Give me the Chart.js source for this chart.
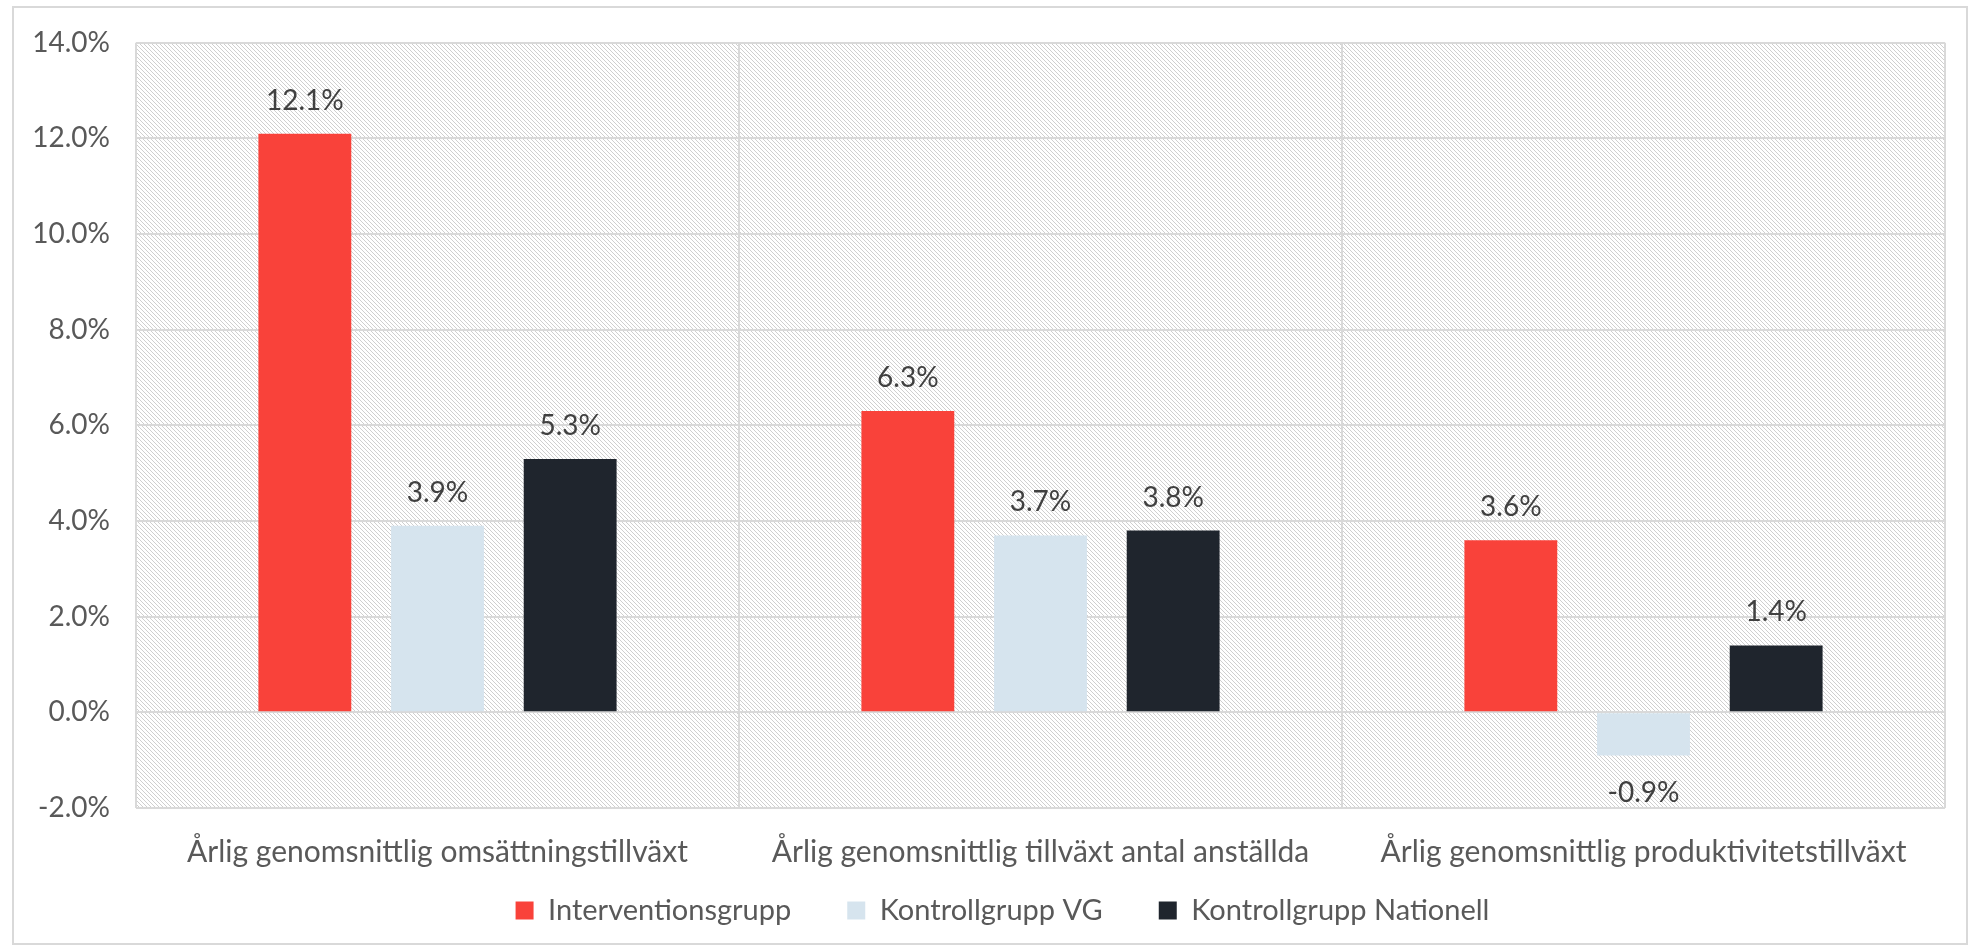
<!DOCTYPE html>
<html lang="sv">
<head>
    <meta charset="UTF-8">
    <title>Årlig genomsnittlig tillväxt</title>
    <style>
        html, body { margin: 0; padding: 0; background: #fff; }
        #Wrap { position: relative; width: 1980px; height: 952px; }
    </style>
</head>
<body>
    <div id="Wrap"><canvas id="Grafico"></canvas></div>

    <script src="https://cdn.jsdelivr.net/npm/chart.js"></script>
    <script>
        // dados
        const categorias = [
            'Årlig genomsnittlig omsättningstillväxt',
            'Årlig genomsnittlig tillväxt antal anställda',
            'Årlig genomsnittlig produktivitetstillväxt'
        ];
        const interventionsgrupp = [12.1, 6.3, 3.6];
        const kontrollgruppVG = [3.9, 3.7, -0.9];
        const kontrollgruppNationell = [5.3, 3.8, 1.4];
        const serieNomes = ['Interventionsgrupp', 'Kontrollgrupp VG', 'Kontrollgrupp Nationell'];
        const serieCores = ['#F9423A', '#D6E4EE', '#1F252D'];

        const fonte = 'Lato, "Open Sans", sans-serif';

        // fundo hachurado da area do grafico
        function criarHachura() {
            const c = document.createElement('canvas');
            c.width = 4; c.height = 4;
            const g = c.getContext('2d');
            g.fillStyle = '#ffffff';
            g.fillRect(0, 0, 4, 4);
            g.fillStyle = '#cfcfcf';
            for (let i = 0; i < 4; i++) g.fillRect(i, i, 1, 1);
            return g.createPattern(c, 'repeat');
        }

        const fundoPlugin = {
            id: 'fundo',
            beforeDraw(chart) {
                const ctx = chart.ctx;
                const a = chart.chartArea;
                ctx.save();
                ctx.fillStyle = '#ffffff';
                ctx.fillRect(0, 0, chart.width, chart.height);
                ctx.strokeStyle = '#D9D9D9';
                ctx.lineWidth = 2;
                ctx.strokeRect(13, 7, 1954, 937);
                ctx.fillStyle = criarHachura();
                ctx.fillRect(a.left, a.top, a.right - a.left, a.bottom - a.top);
                ctx.restore();
            }
        };

        // posiciona a legenda (o padding grande serve so pro espaco entre os itens)
        const legendaPlugin = {
            id: 'legendaAjuste',
            afterLayout(chart) {
                const l = chart.legend;
                l.top = 840;
                l.bottom = 950;
                l.height = l.bottom - l.top;
                l.left += 30;
                l.right += 30;
            }
        };

        const rotulosPlugin = {
            id: 'rotulos',
            afterDatasetsDraw(chart) {
                const ctx = chart.ctx;
                ctx.save();
                ctx.font = '28px ' + fonte;
                ctx.fillStyle = '#404040';
                ctx.textAlign = 'center';
                ctx.textBaseline = 'middle';
                chart.data.datasets.forEach((ds, i) => {
                    chart.getDatasetMeta(i).data.forEach((el, j) => {
                        const v = ds.data[j];
                        const y = v >= 0 ? el.y - 33 : el.y + 38;
                        ctx.fillText(v.toFixed(1) + '%', el.x, y);
                    });
                });
                ctx.restore();
            }
        };

        const dados = {
            labels: categorias,
            datasets: [
                { label: serieNomes[0], data: interventionsgrupp, backgroundColor: serieCores[0] },
                { label: serieNomes[1], data: kontrollgruppVG, backgroundColor: serieCores[1] },
                { label: serieNomes[2], data: kontrollgruppNationell, backgroundColor: serieCores[2] }
            ]
        };

        const config = {
            type: 'bar',
            data: dados,
            options: {
                responsive: false,
                animation: false,
                devicePixelRatio: 1,
                datasets: {
                    bar: { categoryPercentage: 0.66, barPercentage: 0.7 }
                },
                layout: { padding: { top: 38, right: 35, left: 0, bottom: 0 } },
                scales: {
                    x: {
                        offset: true,
                        grid: { color: '#D9D9D9', lineWidth: 2, drawTicks: false, offset: true },
                        border: { display: false },
                        ticks: {
                            color: '#595959',
                            font: { family: fonte, size: 30 },
                            padding: 26,
                            maxRotation: 0,
                            autoSkip: false
                        }
                    },
                    y: {
                        min: -2,
                        max: 14,
                        grid: { color: '#D9D9D9', lineWidth: 2, drawTicks: false },
                        border: { display: false },
                        ticks: {
                            stepSize: 2,
                            color: '#595959',
                            font: { family: fonte, size: 28 },
                            padding: 26,
                            callback: (v) => v.toFixed(1) + '%'
                        },
                        afterFit(s) { s.width = 136; }
                    }
                },
                plugins: {
                    tooltip: { enabled: false },
                    legend: {
                        position: 'bottom',
                        maxHeight: 56,
                        labels: {
                            color: '#595959',
                            font: { family: fonte, size: 29 },
                            boxWidth: 18,
                            boxHeight: 18,
                            padding: 56
                        }
                    }
                }
            },
            plugins: [fundoPlugin, legendaPlugin, rotulosPlugin]
        };

        const cv = document.getElementById('Grafico');
        cv.width = 1980;
        cv.height = 952;
        new Chart(cv, config);
    </script>
</body>
</html>
